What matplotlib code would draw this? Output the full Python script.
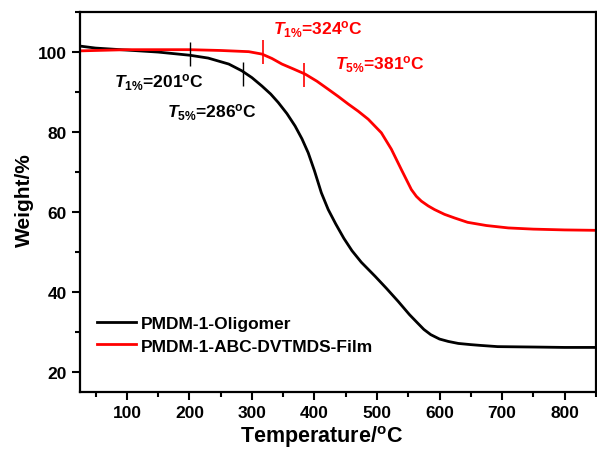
import numpy as np
import matplotlib
matplotlib.use("Agg")
from matplotlib import pyplot as plt

plt.rcParams['font.family'] = ['Liberation Sans', 'DejaVu Sans']
plt.rcParams['font.weight'] = 'bold'
plt.rcParams['mathtext.fontset'] = 'custom'
plt.rcParams['mathtext.rm'] = 'Liberation Sans:bold'
plt.rcParams['mathtext.it'] = 'Liberation Sans:italic:bold'
plt.rcParams['mathtext.bf'] = 'Liberation Sans:bold'

# TGA data
temp_olig = [25, 50, 100, 150, 201, 230, 263, 284, 300, 316, 330, 342, 356, 369, 380,
             390, 400, 411, 422, 434, 447, 460, 475, 497, 515, 534, 552, 565, 575, 586,
             600, 614, 630, 650, 666, 693, 750, 800, 850]
wt_olig = [101.5, 101.0, 100.5, 100.0, 99.2, 98.5, 97.0, 95.3, 93.6, 91.5, 89.5, 87.4,
           84.6, 81.5, 78.3, 74.8, 70.3, 64.8, 60.6, 57.0, 53.4, 50.3, 47.4, 43.9, 40.9,
           37.6, 34.3, 32.2, 30.6, 29.3, 28.2, 27.6, 27.1, 26.8, 26.6, 26.3, 26.2, 26.1,
           26.1]

temp_film = [25, 50, 100, 150, 200, 250, 295, 316, 332, 348, 366, 385, 404, 422, 438,
             454, 470, 486, 507, 523, 539, 555, 563, 571, 582, 592, 608, 624, 645, 675,
             710, 750, 800, 850]
wt_film = [100.3, 100.4, 100.6, 100.6, 100.6, 100.4, 100.1, 99.5, 98.4, 97.0, 95.8, 94.5,
           92.7, 90.7, 88.9, 87.0, 85.2, 83.2, 79.8, 75.7, 70.6, 65.6, 63.9, 62.7, 61.5,
           60.6, 59.4, 58.5, 57.4, 56.6, 56.0, 55.7, 55.5, 55.4]

# T1% / T5% markers
mark_t_olig = [201, 286]
mark_w_olig = [99.5, 94.5]
mark_t_film = [318, 384]
mark_w_film = [100.0, 94.3]
labels_olig = [r'$\mathit{T}_{1\%}$=201$^{\mathrm{o}}$C', r'$\mathit{T}_{5\%}$=286$^{\mathrm{o}}$C']
labels_film = [r'$\mathit{T}_{1\%}$=324$^{\mathrm{o}}$C', r'$\mathit{T}_{5\%}$=381$^{\mathrm{o}}$C']
label_pos_olig = [(79, 92.7), (164, 85.2)]
label_pos_film = [(334, 105.8), (433, 97.0)]

fig = plt.figure(figsize=(5.97, 4.52), dpi=100)
ax = fig.add_axes([0.134, 0.131, 0.864, 0.840])

ax.plot(temp_olig, wt_olig, color='black', lw=2, label='PMDM-1-Oligomer')
ax.plot(temp_film, wt_film, color='red', lw=2, label='PMDM-1-ABC-DVTMDS-Film')

ax.vlines(mark_t_olig, np.array(mark_w_olig) - 3, np.array(mark_w_olig) + 3, color='black', lw=1)
ax.vlines(mark_t_film, np.array(mark_w_film) - 3, np.array(mark_w_film) + 3, color='red', lw=1.2)

for (x, y), s in zip(label_pos_olig, labels_olig):
    ax.text(x, y, s, color='black', fontsize=12.5, va='center', ha='left')
for (x, y), s in zip(label_pos_film, labels_film):
    ax.text(x, y, s, color='red', fontsize=12.5, va='center', ha='left')

ax.set_xlim(25, 850)
ax.set_ylim(15, 110)
ax.set_xticks(np.arange(100, 801, 100))
ax.set_xticks(np.arange(50, 851, 50), minor=True)
ax.set_yticks(np.arange(20, 101, 20))
ax.set_yticks(np.arange(20, 111, 10), minor=True)
ax.tick_params(which='major', direction='out', length=6, width=1.5, labelsize=12.5)
ax.tick_params(which='minor', direction='out', length=3.5, width=1.5)
for sp in ax.spines.values():
    sp.set_linewidth(1.6)

ax.set_xlabel('Temperature/$^{\mathrm{o}}$C', fontsize=15.5, fontweight='bold')
ax.xaxis.set_label_coords(0.469, -0.082)
ax.set_ylabel('Weight/%', fontsize=15, fontweight='bold')
ax.yaxis.set_label_coords(-0.09, 0.508)

ax.legend(loc='lower left', frameon=False, fontsize=12.5, handlelength=2.2,
          handletextpad=0.3, borderaxespad=0.6, labelspacing=0.45,
          bbox_to_anchor=(0.0, 0.055))

fig.savefig('out.png', dpi=100)
